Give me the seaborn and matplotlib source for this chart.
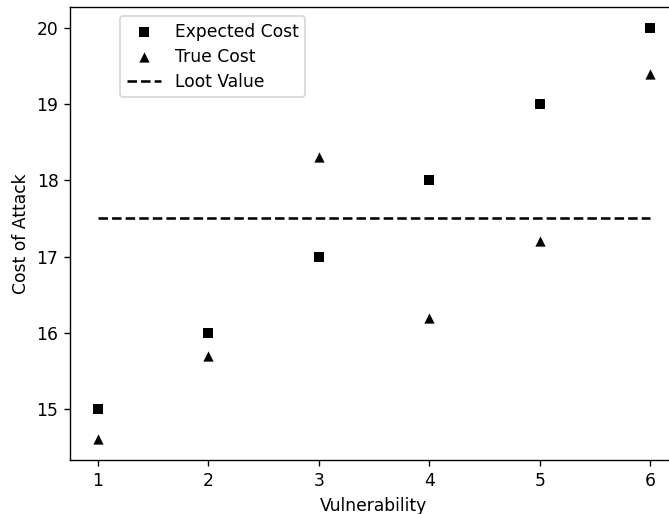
import matplotlib
matplotlib.use("Agg")
import matplotlib.pyplot as plt
import seaborn as sns
import pandas as pd

vulnerability = [1, 2, 3, 4, 5, 6]
expected_cost = [15, 16, 17, 18, 19, 20]
true_cost = [14.6, 15.7, 18.3, 16.2, 17.2, 19.4]
loot_value = [17.5, 17.5, 17.5, 17.5, 17.5, 17.5]

df = pd.DataFrame({"v": vulnerability, "exp": expected_cost,
                   "true": true_cost, "loot": loot_value})

sns.set_style("ticks", rc={"text.color": "black", "axes.labelcolor": "black",
                           "xtick.color": "black", "ytick.color": "black",
                           "axes.edgecolor": "black"})
plt.rcParams['font.family'] = ['DejaVu Sans']

DPI = 123
fig = plt.figure(figsize=(669 / DPI, 514 / DPI), dpi=DPI)
ax = fig.add_axes([0.1052, 0.1051, 0.9076, 0.8805])

sns.scatterplot(data=df, x="v", y="exp", marker="s", color="black", s=36,
                edgecolor="black", linewidth=0, label="Expected Cost", ax=ax)
sns.scatterplot(data=df, x="v", y="true", marker="^", color="black", s=36,
                edgecolor="black", linewidth=0, label="True Cost", ax=ax)
sns.lineplot(data=df, x="v", y="loot", color="black", linestyle="--",
             linewidth=1.5, label="Loot Value", ax=ax)

ax.set_xlim(0.75, 6.25)
ax.set_ylim(14.33, 20.27)
ax.set_xticks(vulnerability)
ax.set_yticks([15, 16, 17, 18, 19, 20])
ax.set_xlabel("Vulnerability", fontsize=10)
ax.set_ylabel("Cost of Attack", fontsize=10)
ax.tick_params(labelsize=10, direction="out", length=3.5, width=0.8, color="black")
for sp in ax.spines.values():
    sp.set_visible(True)
    sp.set_color("black")
    sp.set_linewidth(0.8)

ax.legend(loc="upper left", bbox_to_anchor=(0.0817, 0.981), borderaxespad=0,
          fontsize=10, frameon=True, labelspacing=0.4)

fig.savefig("out.png", dpi=DPI)
